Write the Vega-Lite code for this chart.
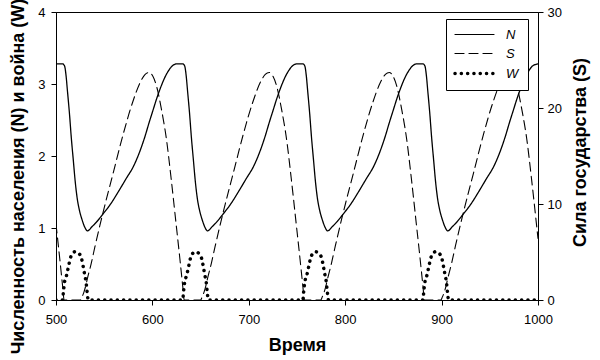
{
  "$schema": "https://vega.github.io/schema/vega-lite/v6.json",
  "width": 482,
  "height": 288,
  "autosize": {"type": "none"},
  "padding": {"left": 56, "top": 12, "right": 62, "bottom": 60},
  "background": "#ffffff",
  "config": {
    "view": {"stroke": "#000", "strokeWidth": 1},
    "font": "Liberation Sans",
    "axis": {
      "grid": false,
      "labelFont": "Liberation Sans",
      "labelFontSize": 13,
      "labelColor": "#000",
      "labelFlush": false,
      "labelOverlap": false,
      "titleFont": "Liberation Sans",
      "titleFontSize": 18,
      "titleFontWeight": "bold",
      "titleColor": "#000",
      "domainColor": "#000",
      "tickColor": "#000",
      "tickSize": 5
    },
    "legend": {
      "labelFont": "Liberation Sans",
      "labelFontSize": 13,
      "labelFontStyle": "italic",
      "labelColor": "#000"
    }
  },
  "data": {
    "values": [
      {"t":500,"s":"N","v":3.28},{"t":506.9,"s":"N","v":3.28},{"t":508.9,"s":"N","v":3.25},{"t":510.4,"s":"N","v":3.12},{"t":511.9,"s":"N","v":2.9},{"t":513.9,"s":"N","v":2.6},{"t":515.9,"s":"N","v":2.25},{"t":517.9,"s":"N","v":1.95},{"t":519.9,"s":"N","v":1.65},{"t":521.9,"s":"N","v":1.42},{"t":524.4,"s":"N","v":1.24},{"t":526.9,"s":"N","v":1.12},{"t":529.9,"s":"N","v":1.01},
      {"t":532.5,"s":"N","v":0.96},{"t":537.5,"s":"N","v":1.02},{"t":542.5,"s":"N","v":1.09},{"t":548.5,"s":"N","v":1.19},{"t":556.5,"s":"N","v":1.33},{"t":564.5,"s":"N","v":1.5},{"t":572.5,"s":"N","v":1.68},{"t":580.5,"s":"N","v":1.86},{"t":584.5,"s":"N","v":1.98},{"t":588.5,"s":"N","v":2.12},{"t":592.5,"s":"N","v":2.28},{"t":596.5,"s":"N","v":2.46},{"t":600.5,"s":"N","v":2.63},{"t":604.5,"s":"N","v":2.8},{"t":608.5,"s":"N","v":2.95},{"t":612.5,"s":"N","v":3.08},{"t":616.5,"s":"N","v":3.18},{"t":620.5,"s":"N","v":3.25},{"t":625.5,"s":"N","v":3.28},{"t":631.5,"s":"N","v":3.28},{"t":633.5,"s":"N","v":3.25},{"t":635,"s":"N","v":3.12},{"t":636.5,"s":"N","v":2.9},{"t":638.5,"s":"N","v":2.6},{"t":640.5,"s":"N","v":2.25},{"t":642.5,"s":"N","v":1.95},{"t":644.5,"s":"N","v":1.65},{"t":646.5,"s":"N","v":1.42},{"t":649,"s":"N","v":1.24},{"t":651.5,"s":"N","v":1.12},{"t":654.5,"s":"N","v":1.01},
      {"t":657.1,"s":"N","v":0.96},{"t":662.1,"s":"N","v":1.02},{"t":667.1,"s":"N","v":1.09},{"t":673.1,"s":"N","v":1.19},{"t":681.1,"s":"N","v":1.33},{"t":689.1,"s":"N","v":1.5},{"t":697.1,"s":"N","v":1.68},{"t":705.1,"s":"N","v":1.86},{"t":709.1,"s":"N","v":1.98},{"t":713.1,"s":"N","v":2.12},{"t":717.1,"s":"N","v":2.28},{"t":721.1,"s":"N","v":2.46},{"t":725.1,"s":"N","v":2.63},{"t":729.1,"s":"N","v":2.8},{"t":733.1,"s":"N","v":2.95},{"t":737.1,"s":"N","v":3.08},{"t":741.1,"s":"N","v":3.18},{"t":745.1,"s":"N","v":3.25},{"t":750.1,"s":"N","v":3.28},{"t":756.1,"s":"N","v":3.28},{"t":758.1,"s":"N","v":3.25},{"t":759.6,"s":"N","v":3.12},{"t":761.1,"s":"N","v":2.9},{"t":763.1,"s":"N","v":2.6},{"t":765.1,"s":"N","v":2.25},{"t":767.1,"s":"N","v":1.95},{"t":769.1,"s":"N","v":1.65},{"t":771.1,"s":"N","v":1.42},{"t":773.6,"s":"N","v":1.24},{"t":776.1,"s":"N","v":1.12},{"t":779.1,"s":"N","v":1.01},
      {"t":781.7,"s":"N","v":0.96},{"t":786.7,"s":"N","v":1.02},{"t":791.7,"s":"N","v":1.09},{"t":797.7,"s":"N","v":1.19},{"t":805.7,"s":"N","v":1.33},{"t":813.7,"s":"N","v":1.5},{"t":821.7,"s":"N","v":1.68},{"t":829.7,"s":"N","v":1.86},{"t":833.7,"s":"N","v":1.98},{"t":837.7,"s":"N","v":2.12},{"t":841.7,"s":"N","v":2.28},{"t":845.7,"s":"N","v":2.46},{"t":849.7,"s":"N","v":2.63},{"t":853.7,"s":"N","v":2.8},{"t":857.7,"s":"N","v":2.95},{"t":861.7,"s":"N","v":3.08},{"t":865.7,"s":"N","v":3.18},{"t":869.7,"s":"N","v":3.25},{"t":874.7,"s":"N","v":3.28},{"t":880.7,"s":"N","v":3.28},{"t":882.7,"s":"N","v":3.25},{"t":884.2,"s":"N","v":3.12},{"t":885.7,"s":"N","v":2.9},{"t":887.7,"s":"N","v":2.6},{"t":889.7,"s":"N","v":2.25},{"t":891.7,"s":"N","v":1.95},{"t":893.7,"s":"N","v":1.65},{"t":895.7,"s":"N","v":1.42},{"t":898.2,"s":"N","v":1.24},{"t":900.7,"s":"N","v":1.12},{"t":903.7,"s":"N","v":1.01},
      {"t":906.3,"s":"N","v":0.96},{"t":911.3,"s":"N","v":1.02},{"t":916.3,"s":"N","v":1.09},{"t":922.3,"s":"N","v":1.19},{"t":930.3,"s":"N","v":1.33},{"t":938.3,"s":"N","v":1.5},{"t":946.3,"s":"N","v":1.68},{"t":954.3,"s":"N","v":1.86},{"t":958.3,"s":"N","v":1.98},{"t":962.3,"s":"N","v":2.12},{"t":966.3,"s":"N","v":2.28},{"t":970.3,"s":"N","v":2.46},{"t":974.3,"s":"N","v":2.63},{"t":978.3,"s":"N","v":2.8},{"t":982.3,"s":"N","v":2.95},{"t":986.3,"s":"N","v":3.08},{"t":990.3,"s":"N","v":3.18},{"t":994.3,"s":"N","v":3.25},{"t":1000,"s":"N","v":3.28},

      {"t":500,"s":"S","v":7.9},{"t":503.9,"s":"S","v":4.3},{"t":506.9,"s":"S","v":1.4},{"t":508.4,"s":"S","v":0},{"t":525.4,"s":"S","v":0},{"t":526.9,"s":"S","v":0.3},{"t":528.9,"s":"S","v":0.8},{"t":530.9,"s":"S","v":1.5},
      {"t":532.5,"s":"S","v":2.2},{"t":536.5,"s":"S","v":3.8},{"t":540.5,"s":"S","v":5.6},{"t":548.5,"s":"S","v":9.0},{"t":559.5,"s":"S","v":13.3},{"t":569.5,"s":"S","v":17.2},{"t":579.5,"s":"S","v":20.6},{"t":587.5,"s":"S","v":22.7},{"t":592.5,"s":"S","v":23.5},{"t":596.5,"s":"S","v":23.7},{"t":600.5,"s":"S","v":23.3},{"t":604.5,"s":"S","v":22.2},{"t":609.5,"s":"S","v":19.8},{"t":614.5,"s":"S","v":16.8},{"t":619.5,"s":"S","v":12.6},{"t":624.5,"s":"S","v":8.0},{"t":628.5,"s":"S","v":4.3},{"t":631.5,"s":"S","v":1.4},{"t":633,"s":"S","v":0},{"t":650,"s":"S","v":0},{"t":651.5,"s":"S","v":0.3},{"t":653.5,"s":"S","v":0.8},{"t":655.5,"s":"S","v":1.5},
      {"t":657.1,"s":"S","v":2.2},{"t":661.1,"s":"S","v":3.8},{"t":665.1,"s":"S","v":5.6},{"t":673.1,"s":"S","v":9.0},{"t":684.1,"s":"S","v":13.3},{"t":694.1,"s":"S","v":17.2},{"t":704.1,"s":"S","v":20.6},{"t":712.1,"s":"S","v":22.7},{"t":717.1,"s":"S","v":23.5},{"t":721.1,"s":"S","v":23.7},{"t":725.1,"s":"S","v":23.3},{"t":729.1,"s":"S","v":22.2},{"t":734.1,"s":"S","v":19.8},{"t":739.1,"s":"S","v":16.8},{"t":744.1,"s":"S","v":12.6},{"t":749.1,"s":"S","v":8.0},{"t":753.1,"s":"S","v":4.3},{"t":756.1,"s":"S","v":1.4},{"t":757.6,"s":"S","v":0},{"t":774.6,"s":"S","v":0},{"t":776.1,"s":"S","v":0.3},{"t":778.1,"s":"S","v":0.8},{"t":780.1,"s":"S","v":1.5},
      {"t":781.7,"s":"S","v":2.2},{"t":785.7,"s":"S","v":3.8},{"t":789.7,"s":"S","v":5.6},{"t":797.7,"s":"S","v":9.0},{"t":808.7,"s":"S","v":13.3},{"t":818.7,"s":"S","v":17.2},{"t":828.7,"s":"S","v":20.6},{"t":836.7,"s":"S","v":22.7},{"t":841.7,"s":"S","v":23.5},{"t":845.7,"s":"S","v":23.7},{"t":849.7,"s":"S","v":23.3},{"t":853.7,"s":"S","v":22.2},{"t":858.7,"s":"S","v":19.8},{"t":863.7,"s":"S","v":16.8},{"t":868.7,"s":"S","v":12.6},{"t":873.7,"s":"S","v":8.0},{"t":877.7,"s":"S","v":4.3},{"t":880.7,"s":"S","v":1.4},{"t":882.2,"s":"S","v":0},{"t":899.2,"s":"S","v":0},{"t":900.7,"s":"S","v":0.3},{"t":902.7,"s":"S","v":0.8},{"t":904.7,"s":"S","v":1.5},
      {"t":906.3,"s":"S","v":2.2},{"t":910.3,"s":"S","v":3.8},{"t":914.3,"s":"S","v":5.6},{"t":922.3,"s":"S","v":9.0},{"t":933.3,"s":"S","v":13.3},{"t":943.3,"s":"S","v":17.2},{"t":953.3,"s":"S","v":20.6},{"t":961.3,"s":"S","v":22.7},{"t":966.3,"s":"S","v":23.5},{"t":970.3,"s":"S","v":23.7},{"t":974.3,"s":"S","v":23.3},{"t":978.3,"s":"S","v":22.2},{"t":983.3,"s":"S","v":19.8},{"t":988.3,"s":"S","v":16.8},{"t":993.3,"s":"S","v":12.6},{"t":998.3,"s":"S","v":8.0},{"t":1000,"s":"S","v":6.4},

      {"t":500,"s":"W","v":0},{"t":506.9,"s":"W","v":0},{"t":507.6,"s":"W","v":0.1},{"t":508.9,"s":"W","v":0.25},{"t":510.9,"s":"W","v":0.34},{"t":512.9,"s":"W","v":0.46},{"t":514.9,"s":"W","v":0.58},{"t":517.4,"s":"W","v":0.65},{"t":519.9,"s":"W","v":0.67},{"t":523.4,"s":"W","v":0.65},{"t":526.4,"s":"W","v":0.58},{"t":528.4,"s":"W","v":0.45},{"t":529.9,"s":"W","v":0.34},{"t":531.2,"s":"W","v":0.25},{"t":532.2,"s":"W","v":0.12},{"t":533.5,"s":"W","v":0},
      {"t":631.5,"s":"W","v":0},{"t":632.2,"s":"W","v":0.1},{"t":633.5,"s":"W","v":0.25},{"t":635.5,"s":"W","v":0.34},{"t":637.5,"s":"W","v":0.46},{"t":639.5,"s":"W","v":0.58},{"t":642,"s":"W","v":0.65},{"t":644.5,"s":"W","v":0.67},{"t":648,"s":"W","v":0.65},{"t":651,"s":"W","v":0.58},{"t":653,"s":"W","v":0.45},{"t":654.5,"s":"W","v":0.34},{"t":655.8,"s":"W","v":0.25},{"t":656.8,"s":"W","v":0.12},{"t":658.1,"s":"W","v":0},
      {"t":756.1,"s":"W","v":0},{"t":756.8,"s":"W","v":0.1},{"t":758.1,"s":"W","v":0.25},{"t":760.1,"s":"W","v":0.34},{"t":762.1,"s":"W","v":0.46},{"t":764.1,"s":"W","v":0.58},{"t":766.6,"s":"W","v":0.65},{"t":769.1,"s":"W","v":0.67},{"t":772.6,"s":"W","v":0.65},{"t":775.6,"s":"W","v":0.58},{"t":777.6,"s":"W","v":0.45},{"t":779.1,"s":"W","v":0.34},{"t":780.4,"s":"W","v":0.25},{"t":781.4,"s":"W","v":0.12},{"t":782.7,"s":"W","v":0},
      {"t":880.7,"s":"W","v":0},{"t":881.4,"s":"W","v":0.1},{"t":882.7,"s":"W","v":0.25},{"t":884.7,"s":"W","v":0.34},{"t":886.7,"s":"W","v":0.46},{"t":888.7,"s":"W","v":0.58},{"t":891.2,"s":"W","v":0.65},{"t":893.7,"s":"W","v":0.67},{"t":897.2,"s":"W","v":0.65},{"t":900.2,"s":"W","v":0.58},{"t":902.2,"s":"W","v":0.45},{"t":903.7,"s":"W","v":0.34},{"t":905,"s":"W","v":0.25},{"t":906,"s":"W","v":0.12},{"t":907.3,"s":"W","v":0},{"t":1000,"s":"W","v":0}
    ]
  },
  "encoding": {
    "x": {
      "field": "t",
      "type": "quantitative",
      "scale": {"domain": [500, 1000], "nice": false, "zero": false},
      "axis": {
        "values": [500, 600, 700, 800, 900, 1000],
        "format": "d",
        "title": "Время",
        "labelPadding": 8,
        "titleY": 50,
        "titleBaseline": "alphabetic"
      }
    }
  },
  "layer": [
    {
      "encoding": {
        "y": {
          "field": "v",
          "type": "quantitative",
          "scale": {"domain": [0, 4], "nice": false},
          "axis": {
            "values": [0, 1, 2, 3, 4],
            "title": "Численность населения (N) и война (W)",
            "labelPadding": 6,
            "titleX": -33,
            "titleY": 164,
            "titleBaseline": "alphabetic"
          }
        },
        "strokeDash": {
          "field": "s",
          "type": "nominal",
          "scale": {"domain": ["N", "S", "W"], "range": [[1, 0], [9, 5], [0.1, 6.2]]},
          "legend": {
            "title": null,
            "orient": "none",
            "legendX": 390,
            "legendY": 7,
            "symbolType": "M-1,0H5",
            "symbolSize": 169,
            "symbolStrokeColor": "#000",
            "labelOffset": 38,
            "padding": 9,
            "rowPadding": 5,
            "strokeColor": "#000",
            "fillColor": "#ffffff",
            "encode": {
              "symbols": {
                "update": {
                  "strokeCap": {"value": "round"},
                  "strokeWidth": {"signal": "datum.value === 'W' ? 3.5 : 1.2"}
                }
              }
            }
          }
        }
      },
      "layer": [
        {
          "transform": [{"filter": "datum.s === 'N'"}],
          "mark": {"type": "line", "color": "#000", "strokeWidth": 1.3, "strokeCap": "round", "interpolate": "monotone", "clip": true}
        },
        {
          "transform": [{"filter": "datum.s === 'W'"}],
          "mark": {"type": "line", "color": "#000", "strokeWidth": 3.5, "strokeCap": "round", "interpolate": "monotone", "clip": true}
        }
      ]
    },
    {
      "transform": [{"filter": "datum.s === 'S'"}],
      "mark": {"type": "line", "color": "#000", "strokeWidth": 1.1, "strokeCap": "round", "interpolate": "monotone", "clip": true},
      "encoding": {
        "y": {
          "field": "v",
          "type": "quantitative",
          "scale": {"domain": [0, 30], "nice": false},
          "axis": {
            "orient": "right",
            "values": [0, 10, 20, 30],
            "title": "Сила государства (S)",
            "labelPadding": 4,
            "titleAngle": 270,
            "titleX": 47,
            "titleY": 140,
            "titleBaseline": "alphabetic"
          }
        },
        "strokeDash": {
          "field": "s",
          "type": "nominal",
          "scale": {"domain": ["N", "S", "W"], "range": [[1, 0], [9, 5], [0.1, 6.2]]}
        }
      }
    }
  ],
  "resolve": {"scale": {"y": "independent"}}
}
